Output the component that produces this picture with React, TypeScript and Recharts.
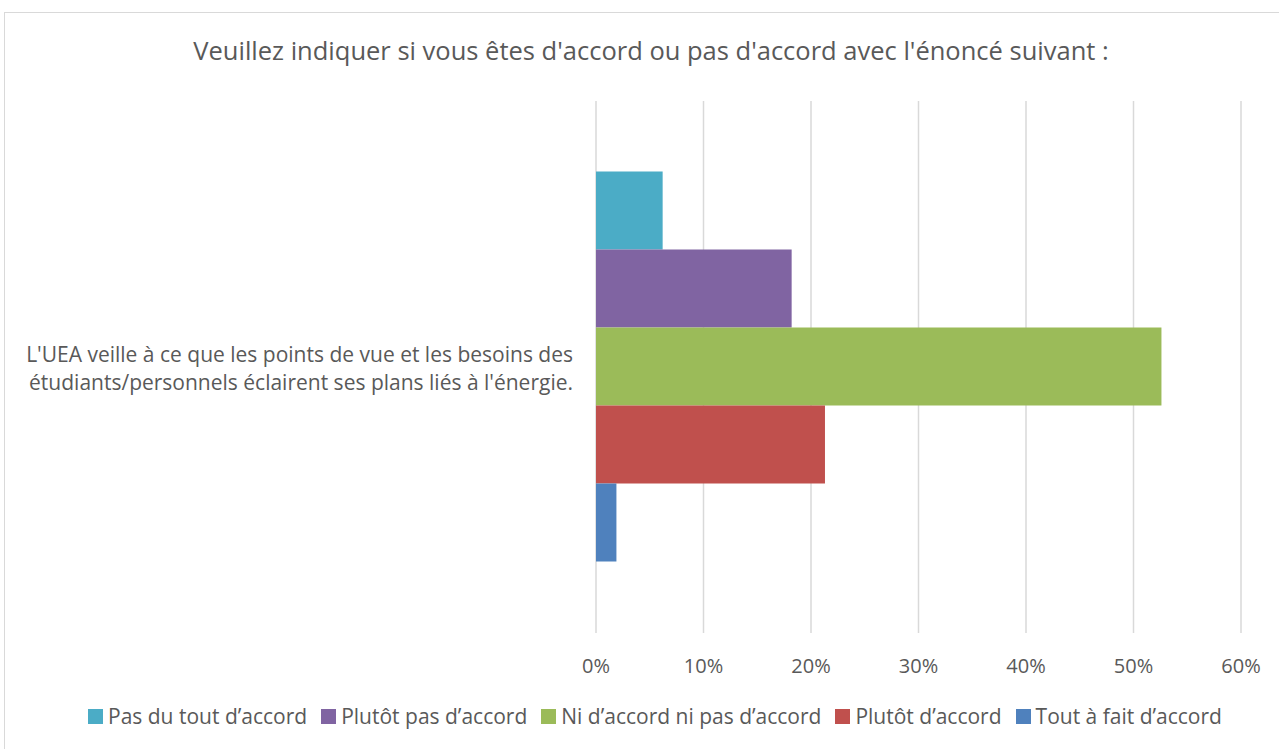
import React from 'react'
import { BarChart, Bar, XAxis, YAxis, CartesianGrid } from 'recharts'

const categories = ["L'UEA veille à ce que les points de vue et les besoins des étudiants/personnels éclairent ses plans liés à l'énergie."]
const categoryLines = [
  "L'UEA veille à ce que les points de vue et les besoins des",
  "étudiants/personnels éclairent ses plans liés à l'énergie.",
]
const seriesNames = [
  'Pas du tout d’accord',
  'Plutôt pas d’accord',
  'Ni d’accord ni pas d’accord',
  'Plutôt d’accord',
  'Tout à fait d’accord',
]
const seriesValues = [6.2, 18.2, 52.6, 21.3, 1.9]
const seriesColors = ['#4bacc6', '#8064a2', '#9bbb59', '#c0504d', '#4f81bd']
const xTicks = [0, 10, 20, 30, 40, 50, 60]

const FONT = '"Open Sans", sans-serif'
const TEXT = '#595959'

const data = categories.map((c) => {
  const row: Record<string, string | number> = { category: c }
  seriesNames.forEach((s, i) => { row[s] = seriesValues[i] })
  return row
})

const XTick = (props: any) => {
  const { x, y, payload } = props
  return (
    <text x={x} y={y + 27} textAnchor="middle" dominantBaseline="middle" fill={TEXT} fontSize={20} fontFamily={FONT}>
      {payload.value}%
    </text>
  )
}

const YTick = (props: any) => {
  const { x, y } = props
  return (
    <text x={x - 15} y={y} textAnchor="end" fill={TEXT} fontSize={21} fontFamily={FONT}>
      {categoryLines.map((l, i) => (
        <tspan key={i} x={x - 15} dy={i === 0 ? -5 : 28}>{l}</tspan>
      ))}
    </text>
  )
}

const App: React.FC = () => {
  return (
    <div style={{ position: 'absolute', left: 0, top: 0, width: 1279, height: 749, background: '#fff', overflow: 'hidden' }}>
      <div style={{ position: 'absolute', left: 4, top: 12, width: 1300, height: 760, border: '1px solid #d9d9d9' }} />
      <div style={{ position: 'absolute', left: 0, top: 33, width: 1302, textAlign: 'center', fontFamily: FONT, fontSize: 25.5, color: TEXT }}>
        Veuillez indiquer si vous êtes d'accord ou pas d'accord avec l'énoncé suivant :
      </div>
      <BarChart
        width={1279}
        height={749}
        data={data}
        layout="vertical"
        margin={{ top: 101, right: 38, bottom: 0, left: 0 }}
        barCategoryGap="13.25%"
        barGap={0}
        style={{ position: 'absolute', left: 0, top: 0 }}
      >
        <CartesianGrid horizontal={false} stroke="#d9d9d9" strokeWidth={1.5} />
        <XAxis type="number" domain={[0, 60]} ticks={xTicks} axisLine={false} tickLine={false} tick={<XTick />} height={116} />
        <YAxis type="category" dataKey="category" width={596} axisLine={false} tickLine={false} tick={<YTick />} />
        {seriesNames.map((s, i) => (
          <Bar key={s} dataKey={s} fill={seriesColors[i]} isAnimationActive={false} />
        ))}
      </BarChart>
      <div style={{ position: 'absolute', left: 88, top: 702, display: 'flex', alignItems: 'center', fontFamily: FONT, fontSize: 21, color: TEXT, whiteSpace: 'nowrap' }}>
        {seriesNames.map((s, i) => (
          <span key={s} style={{ display: 'flex', alignItems: 'center', marginRight: 14 }}>
            <span style={{ display: 'inline-block', width: 15, height: 15, background: seriesColors[i], marginRight: 5 }} />
            {s}
          </span>
        ))}
      </div>
    </div>
  )
}

export default App
